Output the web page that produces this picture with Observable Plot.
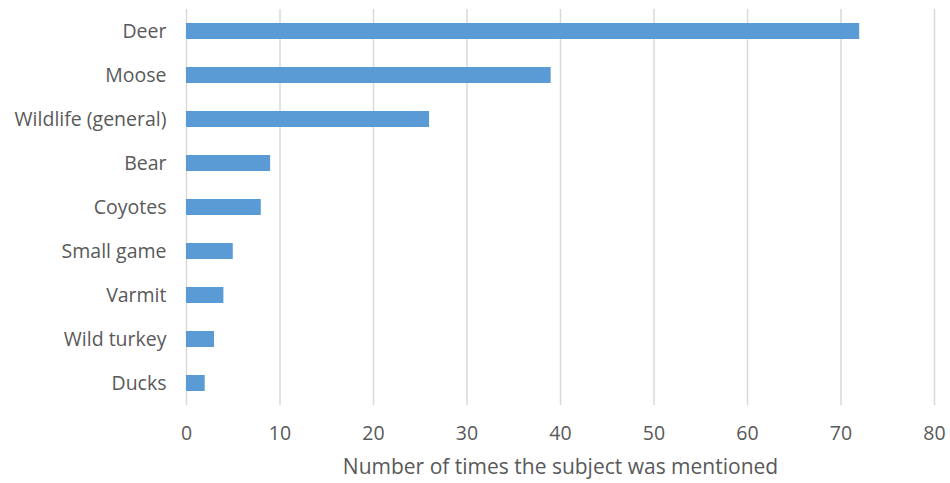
<!DOCTYPE html>
<html>
<head>
<meta charset="utf-8">
<script src="https://cdn.jsdelivr.net/npm/d3@7"></script>
<script src="https://cdn.jsdelivr.net/npm/@observablehq/plot@0.6"></script>
<style>
  html, body { margin: 0; padding: 0; background: #fff; }
  svg { display: block; }
</style>
</head>
<body>
<div id="chart"></div>
<script>
const categories = ["Deer", "Moose", "Wildlife (general)", "Bear", "Coyotes", "Small game", "Varmit", "Wild turkey", "Ducks"];
const values = [72, 39, 26, 9, 8, 5, 4, 3, 2];
const xTicks = [0, 10, 20, 30, 40, 50, 60, 70, 80];
const xLabel = "Number of times the subject was mentioned";

const data = categories.map((c, i) => ({category: c, value: values[i]}));

const chart = Plot.plot({
  width: 950,
  height: 483,
  marginLeft: 186,
  marginRight: 16,
  marginTop: 9,
  marginBottom: 78,
  style: {fontFamily: "'Open Sans', sans-serif", fontSize: "20px", color: "#595959", background: "#fff"},
  x: {domain: [0, 80], ticks: xTicks, label: null},
  y: {domain: categories, paddingInner: 0.636, paddingOuter: 0.318, label: null},
  marks: [
    Plot.ruleX(xTicks, {stroke: "#d9d9d9", strokeWidth: 1.5}),
    Plot.barX(data, {x: "value", y: "category", fill: "#5b9bd5"}),
    Plot.axisX({ticks: xTicks, tickSize: 0, tickPadding: 21, fontSize: 19.5, fill: "#595959", label: null}),
    Plot.axisY({tickSize: 0, tickPadding: 20, fontSize: 19.5, fill: "#595959", label: null}),
    Plot.text([xLabel], {frameAnchor: "bottom", dy: 68, fontSize: 21, fill: "#595959"})
  ]
});
document.getElementById("chart").appendChild(chart);
</script>
</body>
</html>
